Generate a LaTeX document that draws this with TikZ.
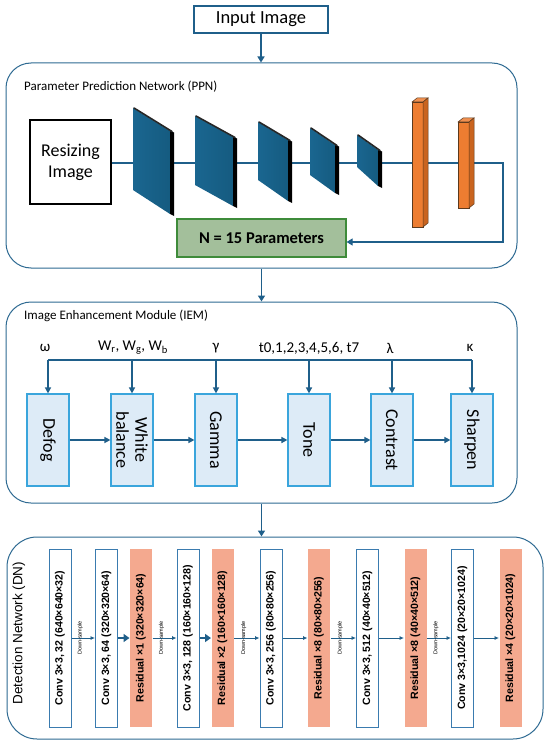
\documentclass[tikz,border=0pt]{standalone}
\usepackage{fontspec}
\setmainfont{Carlito}
\newfontfamily\dnfont{Liberation Sans}
\usetikzlibrary{arrows.meta,calc}
\definecolor{lb}{HTML}{1F5F8A}
\definecolor{panelb}{HTML}{2E6A92}
\definecolor{blkA}{HTML}{1A6690}
\definecolor{blkB}{HTML}{155B80}
\definecolor{orf}{HTML}{ED7D31}
\definecolor{ors}{HTML}{C9641F}
\definecolor{orb}{HTML}{5B3A1E}
\definecolor{ngreen}{HTML}{A3BF9B}
\definecolor{ngreenb}{HTML}{3E8B3A}
\definecolor{iemf}{HTML}{DDEBF7}
\definecolor{iemb}{HTML}{3AA5DC}
\definecolor{dnb}{HTML}{3A7BAF}
\definecolor{sal}{HTML}{F4A98F}
\newcommand\cnnblock[6]{%
  \shade[left color=blkA,right color=blkB] (#1,#3) -- (#2,#4) -- (#2,#6) -- (#1,#5) -- cycle;
  \fill[black] (#2,#4) -- ({#2+4},{#4+1.5}) -- ({#2+4},{#6+2}) -- (#2,#6) -- cycle;
  \draw[black!85,line width=1.6pt,line cap=round] ({#1+1},{#3}) -- ({#2+2},{#4+0.5});}
\newcommand\orbar[4]{%
  \filldraw[fill=orf,draw=orb,line width=0.5pt] (#1,#3) rectangle (#2,#4);
  \filldraw[fill=orf!85!white,draw=orb,line width=0.5pt] (#1,#3) -- ({#1+5},{#3-4}) -- ({#2+5},{#3-4}) -- (#2,#3) -- cycle;
  \filldraw[fill=ors,draw=orb,line width=0.5pt] (#2,#3) -- ({#2+5},{#3-4}) -- ({#2+5},{#4-4}) -- (#2,#4) -- cycle;}
\begin{document}
\begin{tikzpicture}[x=1pt,y=-1pt,
  panel/.style={draw=panelb,line width=1pt,inner sep=0pt},
  arr/.style={draw=lb,line width=1.6pt,-{Triangle[length=6pt,width=7pt]}},
  conn/.style={draw=lb,line width=1.2pt},
  iembox/.style={draw=iemb,fill=iemf,line width=1.2pt,minimum width=92pt,minimum height=42pt,inner sep=0pt,font=\fontsize{18}{19}\selectfont,rotate=-90,align=center},
  iarr/.style={draw=lb,line width=1.6pt,-{Triangle[length=6pt,width=6pt]}},
  dnconv/.style={draw=dnb,fill=white,line width=1pt,minimum width=178pt,minimum height=22pt,inner sep=0pt,rotate=90,font=\dnfont\bfseries\fontsize{10.6}{11}\selectfont},
  dnres/.style={dnconv,draw=none,fill=sal},
  thin/.style={draw=lb,line width=0.8pt,-{Latex[length=4.5pt,width=4pt]}},
  thick/.style={draw=lb,line width=2.4pt,-{Triangle[length=6pt,width=8pt]}},
  ds/.style={rotate=90,font=\dnfont\fontsize{5.5}{6}\selectfont,inner sep=0pt}]
\fill[white] (0,0) rectangle (550,746);
\useasboundingbox (0,0) rectangle (550,746);

% Input
\node[draw=lb,line width=1.6pt,minimum width=134pt,minimum height=27pt,inner sep=0pt,font=\fontsize{18.5}{20}\selectfont] (input) at (261,19.5) {Input Image};

% PPN panel
\node[panel,rounded corners=25pt,minimum width=511pt,minimum height=205pt] (ppn) at (261.5,165.5) {};
\draw[arr] (input.south) -- (input.south |- ppn.north);
\node[anchor=west,inner sep=0pt,font=\fontsize{13}{15}\selectfont] (ppnlab) at (24,87) {Parameter Prediction Network (PPN)};

\node[draw=black,line width=1.5pt,minimum width=81pt,minimum height=84pt,inner sep=0pt,align=center,font=\fontsize{18}{21}\selectfont] (resize) at (70.5,162) {Resizing\\Image};
\node[fill=ngreen,draw=ngreenb,line width=1.2pt,minimum width=169pt,minimum height=38pt,inner sep=0pt,font=\bfseries\fontsize{16.5}{18}\selectfont] (nbox) at (261.5,238) {N = 15 Parameters};
\coordinate (c1) at (503,163);
\coordinate (c2) at (503,242);
\draw[conn,-{Triangle[length=6pt,width=7pt]}] (resize.east |- c1) -- (c1) -- (c2) -- (nbox.east |- c2);

\cnnblock{133}{170}{108}{131}{190}{214}
\cnnblock{195}{233}{116}{137}{185}{206}
\cnnblock{258}{288}{122}{140}{180}{201}
\cnnblock{310}{335}{128}{145}{175}{193}
\cnnblock{357}{378}{135}{150}{167}{186}
\orbar{412}{423}{102}{227}
\orbar{458}{469}{122}{208}

% IEM panel
\node[panel,rounded corners=25pt,minimum width=511pt,minimum height=201pt] (iem) at (261.5,402.5) {};
\draw[arr] (ppn.south) -- (ppn.south |- iem.north);
\node[anchor=west,inner sep=0pt,font=\fontsize{13}{15}\selectfont] (iemlab) at (24,316) {Image Enhancement Module (IEM)};

\node[iembox] (defog) at (48,440) {Defog};
\node[iembox] (wb) at (132,440) {White\\balance};
\node[iembox] (gamma) at (216,440) {Gamma};
\node[iembox] (tone) at (309,440) {Tone};
\node[iembox] (contrast) at (392,440) {Contrast};
\node[iembox] (sharpen) at (472,440) {Sharpen};

\begin{scope}[every node/.style={font=\fontsize{15}{17}\selectfont,inner sep=0pt}]
\node (pw) at (45,348) {ω};
\node (pwb) at (133,348) {W\textsubscript{r}, W\textsubscript{g}, W\textsubscript{b}};
\node (pg) at (216,348) {γ};
\node (pt) at (309,348) {t0,1,2,3,4,5,6, t7};
\node (pl) at (390,348) {λ};
\node (pk) at (470,348) {κ};
\end{scope}
\coordinate (bus) at (0,360);
\draw[draw=lb,line width=1.6pt] (defog.west |- bus) -- (sharpen.west |- bus);
\foreach \b in {defog,wb,gamma,tone,contrast,sharpen}
  \draw[iarr] (\b.west |- bus) -- (\b.west);
\draw[iarr] (defog.north) -- (wb.south);
\draw[iarr] (wb.north) -- (gamma.south);
\draw[iarr] (gamma.north) -- (tone.south);
\draw[iarr] (tone.north) -- (contrast.south);
\draw[iarr] (contrast.north) -- (sharpen.south);

% DN panel
\node[panel,rounded corners=30pt,minimum width=536pt,minimum height=202pt] (dn) at (275,638) {};
\draw[arr] (iem.south) -- (iem.south |- dn.north);
\node[rotate=90,inner sep=0pt,font=\dnfont\fontsize{13.5}{15}\selectfont] (dnlab) at (19,633) {Detection Network (DN)};

\node[dnconv] (d1) at (60,638) {Conv 3×3, 32 (640×640×32)};
\node[dnconv] (d2) at (106.5,638) {Conv 3×3, 64 (320×320×64)};
\node[dnres] (d3) at (141,638) {Residual ×1 (320×320×64)};
\node[dnconv] (d4) at (188,638) {Conv 3×3, 128 (160×160×128)};
\node[dnres] (d5) at (222.5,638) {Residual ×2 (160×160×128)};
\node[dnconv] (d6) at (271,638) {Conv 3×3, 256 (80×80×256)};
\node[dnres] (d7) at (319,638) {Residual ×8 (80×80×256)};
\node[dnconv] (d8) at (367.5,638) {Conv 3×3, 512 (40×40×512)};
\node[dnres] (d9) at (415.5,638) {Residual ×8 (40×40×512)};
\node[dnconv] (d10) at (462.5,638) {Conv 3×3,1024 (20×20×1024)};
\node[dnres] (d11) at (510.5,638) {Residual ×4 (20×20×1024)};

\draw[thin] (d1.south) -- (d2.north);
\draw[thick] (d2.south) -- (d3.north);
\draw[thin] (d3.south) -- (d4.north);
\draw[thick] (d4.south) -- (d5.north);
\draw[thin] (d5.south) -- (d6.north);
\draw[thin] (d6.south) -- (d7.north);
\draw[thin] (d7.south) -- (d8.north);
\draw[thin] (d8.south) -- (d9.north);
\draw[thin] (d9.south) -- (d10.north);
\draw[thin] (d10.south) -- (d11.north);

\node[ds] (s1) at ($(d1.south)!0.5!(d2.north)+(-3,0)$) {Down-sample};
\node[ds] (s2) at ($(d3.south)!0.5!(d4.north)+(-3,0)$) {Down-sample};
\node[ds] (s3) at ($(d5.south)!0.5!(d6.north)+(-3,0)$) {Down-sample};
\node[ds] (s4) at ($(d7.south)!0.5!(d8.north)+(-3,0)$) {Down-sample};
\node[ds] (s5) at ($(d9.south)!0.5!(d10.north)+(-3,0)$) {Down-sample};
\end{tikzpicture}
\end{document}
